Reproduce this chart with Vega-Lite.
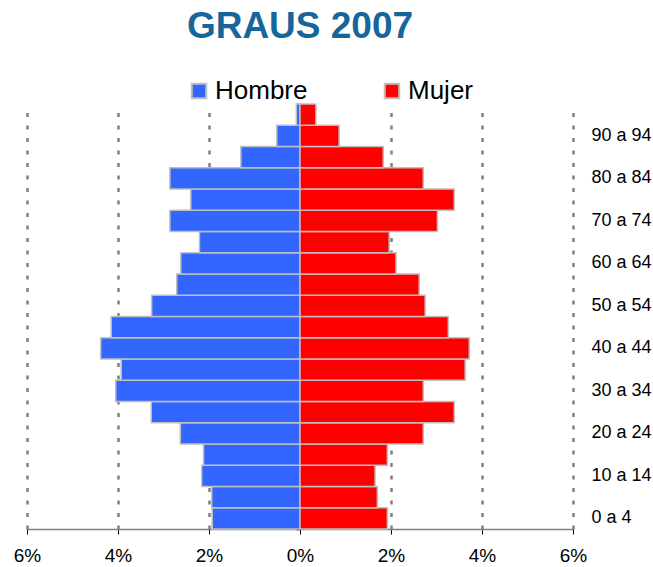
{
  "$schema": "https://vega.github.io/schema/vega-lite/v6.json",
  "autosize": {"type": "none"},
  "padding": {"left": 27, "top": 104, "right": 80, "bottom": 38},
  "width": 546,
  "height": 425,
  "background": "white",
  "config": {"view": {"stroke": null}},
  "title": {
    "text": "GRAUS 2007",
    "font": "Liberation Sans",
    "fontSize": 37,
    "fontWeight": "bold",
    "color": "#17669B",
    "anchor": "middle",
    "frame": "group",
    "offset": 32
  },
  "data": {
    "values": [
      {"edad": "0 a 4", "sexo": "Hombre", "pct": -1.93},
      {"edad": "5 a 9", "sexo": "Hombre", "pct": -1.94},
      {"edad": "10 a 14", "sexo": "Hombre", "pct": -2.16},
      {"edad": "15 a 19", "sexo": "Hombre", "pct": -2.12},
      {"edad": "20 a 24", "sexo": "Hombre", "pct": -2.63},
      {"edad": "25 a 29", "sexo": "Hombre", "pct": -3.27},
      {"edad": "30 a 34", "sexo": "Hombre", "pct": -4.05},
      {"edad": "35 a 39", "sexo": "Hombre", "pct": -3.93},
      {"edad": "40 a 44", "sexo": "Hombre", "pct": -4.38},
      {"edad": "45 a 49", "sexo": "Hombre", "pct": -4.15},
      {"edad": "50 a 54", "sexo": "Hombre", "pct": -3.26},
      {"edad": "55 a 59", "sexo": "Hombre", "pct": -2.71},
      {"edad": "60 a 64", "sexo": "Hombre", "pct": -2.62},
      {"edad": "65 a 69", "sexo": "Hombre", "pct": -2.21},
      {"edad": "70 a 74", "sexo": "Hombre", "pct": -2.86},
      {"edad": "75 a 79", "sexo": "Hombre", "pct": -2.40},
      {"edad": "80 a 84", "sexo": "Hombre", "pct": -2.86},
      {"edad": "85 a 89", "sexo": "Hombre", "pct": -1.30},
      {"edad": "90 a 94", "sexo": "Hombre", "pct": -0.51},
      {"edad": "95 y más", "sexo": "Hombre", "pct": -0.08},
      {"edad": "0 a 4", "sexo": "Mujer", "pct": 1.92},
      {"edad": "5 a 9", "sexo": "Mujer", "pct": 1.70},
      {"edad": "10 a 14", "sexo": "Mujer", "pct": 1.65},
      {"edad": "15 a 19", "sexo": "Mujer", "pct": 1.92},
      {"edad": "20 a 24", "sexo": "Mujer", "pct": 2.71},
      {"edad": "25 a 29", "sexo": "Mujer", "pct": 3.39},
      {"edad": "30 a 34", "sexo": "Mujer", "pct": 2.71},
      {"edad": "35 a 39", "sexo": "Mujer", "pct": 3.63},
      {"edad": "40 a 44", "sexo": "Mujer", "pct": 3.72},
      {"edad": "45 a 49", "sexo": "Mujer", "pct": 3.26},
      {"edad": "50 a 54", "sexo": "Mujer", "pct": 2.75},
      {"edad": "55 a 59", "sexo": "Mujer", "pct": 2.62},
      {"edad": "60 a 64", "sexo": "Mujer", "pct": 2.11},
      {"edad": "65 a 69", "sexo": "Mujer", "pct": 1.96},
      {"edad": "70 a 74", "sexo": "Mujer", "pct": 3.02},
      {"edad": "75 a 79", "sexo": "Mujer", "pct": 3.39},
      {"edad": "80 a 84", "sexo": "Mujer", "pct": 2.71},
      {"edad": "85 a 89", "sexo": "Mujer", "pct": 1.83},
      {"edad": "90 a 94", "sexo": "Mujer", "pct": 0.86},
      {"edad": "95 y más", "sexo": "Mujer", "pct": 0.35}
    ]
  },
  "resolve": {"axis": {"y": "independent"}},
  "layer": [
    {
      "mark": {"type": "bar", "stroke": "#BFBFBF", "strokeWidth": 1.5},
      "encoding": {
        "y": {
          "field": "edad",
          "type": "nominal",
          "sort": ["95 y más", "90 a 94", "85 a 89", "80 a 84", "75 a 79", "70 a 74", "65 a 69", "60 a 64", "55 a 59", "50 a 54", "45 a 49", "40 a 44", "35 a 39", "30 a 34", "25 a 29", "20 a 24", "15 a 19", "10 a 14", "5 a 9", "0 a 4"],
          "scale": {"paddingInner": 0, "paddingOuter": 0},
          "axis": {
            "orient": "right",
            "title": null,
            "domain": false,
            "ticks": false,
            "grid": false,
            "labelPadding": 18,
            "labelFont": "Liberation Sans",
            "labelFontSize": 18,
            "labelColor": "#000000",
            "values": ["90 a 94", "80 a 84", "70 a 74", "60 a 64", "50 a 54", "40 a 44", "30 a 34", "20 a 24", "10 a 14", "0 a 4"]
          }
        },
        "x": {
          "field": "pct",
          "type": "quantitative",
          "scale": {"domain": [-6, 6], "nice": false},
          "axis": {
            "title": null,
            "values": [-6, -4, -2, 0, 2, 4, 6],
            "labelExpr": "abs(datum.value) + '%'",
            "labelFlush": false,
            "labelOverlap": false,
            "labelFont": "Liberation Sans",
            "labelFontSize": 19,
            "labelColor": "#000000",
            "labelPadding": 12,
            "tickSize": 5,
            "tickColor": "#000000",
            "domainColor": "#808080",
            "domainWidth": 1.5,
            "grid": true,
            "gridColor": "#808080",
            "gridWidth": 2.5,
            "gridDash": [4, 8.5]
          }
        },
        "color": {
          "field": "sexo",
          "type": "nominal",
          "scale": {"domain": ["Hombre", "Mujer"], "range": ["#3366FF", "#FF0000"]},
          "legend": {
            "title": null,
            "orient": "none",
            "direction": "horizontal",
            "legendX": 159,
            "legendY": -26,
            "padding": 0,
            "symbolType": "square",
            "symbolSize": 210,
            "symbolStrokeColor": "#BFBFBF",
            "symbolStrokeWidth": 2,
            "symbolOpacity": 1,
            "labelFont": "Liberation Sans",
            "labelFontSize": 26,
            "labelColor": "#000000",
            "labelOffset": 3,
            "columnPadding": 71
          }
        }
      }
    },
    {
      "mark": {"type": "rule", "color": "#222222", "strokeWidth": 1},
      "encoding": {
        "x": {"datum": 0, "type": "quantitative"},
        "y": {
          "field": "edad",
          "type": "nominal",
          "sort": ["95 y más", "90 a 94", "85 a 89", "80 a 84", "75 a 79", "70 a 74", "65 a 69", "60 a 64", "55 a 59", "50 a 54", "45 a 49", "40 a 44", "35 a 39", "30 a 34", "25 a 29", "20 a 24", "15 a 19", "10 a 14", "5 a 9", "0 a 4"],
          "axis": {
            "orient": "left",
            "offset": -273,
            "title": null,
            "domain": false,
            "labels": false,
            "grid": false,
            "ticks": true,
            "tickBand": "extent",
            "tickSize": 4,
            "tickColor": "#000000",
            "tickWidth": 1.5
          }
        }
      }
    }
  ]
}
